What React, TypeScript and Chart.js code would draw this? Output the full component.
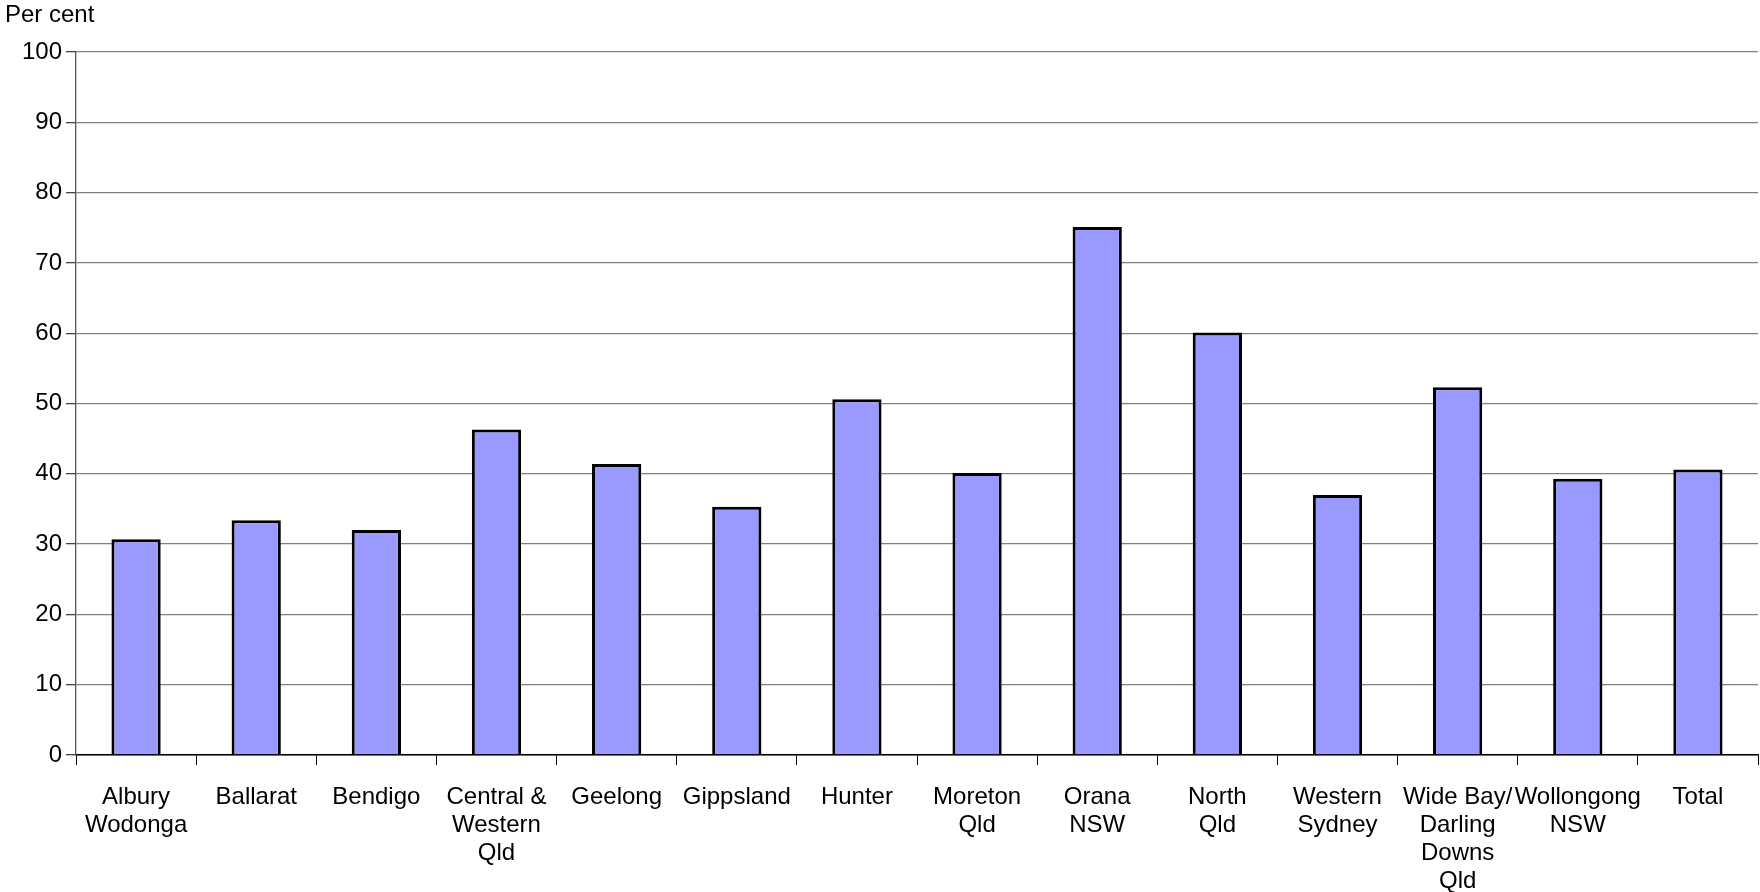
import React, { useEffect, useRef } from "react";
import { Chart, registerables } from "chart.js";

Chart.register(...registerables);

const categories: (string | string[])[] = [
  ["Albury", "Wodonga"],
  "Ballarat",
  "Bendigo",
  ["Central &", "Western", "Qld"],
  "Geelong",
  "Gippsland",
  "Hunter",
  ["Moreton", "Qld"],
  ["Orana", "NSW"],
  ["North", "Qld"],
  ["Western", "Sydney"],
  ["Wide Bay/", "Darling", "Downs", "Qld"],
  ["Wollongong", "NSW"],
  "Total",
];

const values: number[] = [30.7, 33.4, 32.0, 46.3, 41.4, 35.3, 50.6, 40.1, 75.1, 60.1, 37.0, 52.3, 39.3, 40.6];

const yTicks: number[] = [0, 10, 20, 30, 40, 50, 60, 70, 80, 90, 100];

const yAxisTitle = "Per cent";

const FONT = "'Liberation Sans', Arial, sans-serif";

export default function App() {
  const ref = useRef<HTMLCanvasElement | null>(null);

  useEffect(() => {
    if (!ref.current) return;
    const titlePlugin = {
      id: "perCentTitle",
      afterDraw(chart: any) {
        const ctx = chart.ctx;
        ctx.save();
        ctx.font = `24px ${FONT}`;
        ctx.fillStyle = "#000";
        ctx.textAlign = "left";
        ctx.textBaseline = "middle";
        ctx.fillText(yAxisTitle, 5, 15);
        ctx.restore();
      },
    };
    const chart = new Chart(ref.current, {
      type: "bar",
      data: {
        labels: categories,
        datasets: [
          {
            data: values,
            backgroundColor: "#9999FF",
            borderColor: "#000000",
            borderWidth: 3,
            barPercentage: 0.41,
            categoryPercentage: 1,
          },
        ],
      },
      options: {
        animation: false,
        responsive: false,
        maintainAspectRatio: false,
        devicePixelRatio: 1,
        layout: { padding: { top: 52, right: 2, left: 0, bottom: 0 } },
        plugins: { legend: { display: false }, tooltip: { enabled: false }, title: { display: false } },
        scales: {
          x: {
            grid: {
              display: true,
              offset: true,
              drawOnChartArea: false,
              drawTicks: true,
              tickLength: 10,
              color: "#000",
              lineWidth: 1,
            },
            border: { display: true, color: "#000", width: 1.5 },
            ticks: {
              color: "#000",
              font: { family: FONT, size: 24, lineHeight: 1.17 },
              padding: 18,
              maxRotation: 0,
              minRotation: 0,
              autoSkip: false,
            },
            afterFit(scale: any) {
              scale.height = 137;
            },
          },
          y: {
            min: 0,
            max: 100,
            afterBuildTicks(scale: any) {
              scale.ticks = yTicks.map((v) => ({ value: v }));
            },
            grid: {
              color: "#808080",
              lineWidth: 1.3,
              drawTicks: true,
              tickLength: 10,
              tickColor: "#444",
            },
            border: { display: true, color: "#555", width: 1.3 },
            ticks: {
              color: "#000",
              font: { family: FONT, size: 24 },
              padding: 4,
            },
            afterFit(scale: any) {
              scale.width = 76;
            },
          },
        },
      },
      plugins: [titlePlugin],
    });
    return () => chart.destroy();
  }, []);

  return (
    <div style={{ position: "fixed", left: 0, top: 0, width: 1760, height: 892, background: "#fff" }}>
      <canvas ref={ref} width={1760} height={892} style={{ width: 1760, height: 892, display: "block" }} />
    </div>
  );
}
